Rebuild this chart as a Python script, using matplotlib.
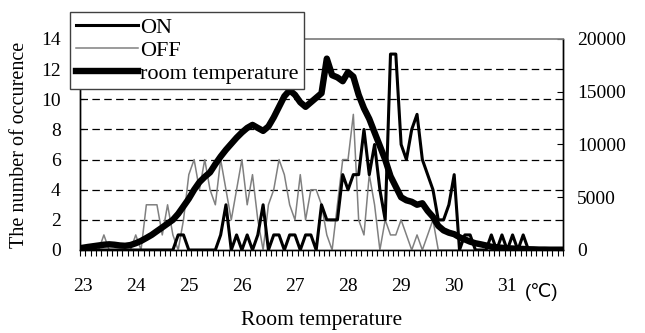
import numpy as np
import matplotlib.pyplot as plt

# ---------------------------------------------------------
# data, 23.0 .. 32.0 degC in 0.1 steps
# ---------------------------------------------------------
temps = [round(23.0 + 0.1 * k, 1) for k in range(91)]

on_count = [0, 0, 0, 0, 0, 0, 0, 0, 0, 0,
            0, 0, 0, 0, 0, 0, 0, 0, 1, 1,
            0, 0, 0, 0, 0, 0, 1, 3, 0, 1,
            0, 1, 0, 1, 3, 0, 1, 1, 0, 1,
            1, 0, 1, 1, 0, 3, 2, 2, 2, 5,
            4, 5, 5, 8, 5, 7, 4, 2, 13, 13,
            7, 6, 8, 9, 6, 5, 4, 2, 2, 3,
            5, 0, 1, 1, 0, 0, 0, 1, 0, 1,
            0, 1, 0, 1, 0, 0, 0, 0, 0, 0,
            0]

off_count = [0, 0, 0, 0, 1, 0, 0, 0, 0, 0,
             1, 0, 3, 3, 3, 1, 3, 1, 0, 2,
             5, 6, 4, 6, 4, 3, 6, 4, 2, 4,
             6, 3, 5, 2, 0, 3, 4, 6, 5, 3,
             2, 5, 2, 4, 4, 3, 1, 0, 3, 6,
             6, 9, 2, 1, 5, 3, 0, 2, 1, 1,
             2, 1, 0, 1, 0, 1, 2, 0, 0, 0,
             0, 0, 0, 0, 0, 0, 0, 0, 0, 0,
             0, 0, 0, 0, 0, 0, 0, 0, 0, 0,
             0]

room_temp = [210, 290, 360, 430, 500, 540, 500, 430, 400, 470,
             640, 860, 1140, 1430, 1790, 2140, 2500, 2860, 3430, 4140,
             4860, 5710, 6430, 6930, 7360, 8140, 8860, 9500, 10070, 10640,
             11140, 11570, 11860, 11570, 11290, 11710, 12570, 13570, 14570, 15140,
             14710, 14000, 13570, 14000, 14430, 14860, 18140, 16570, 16360, 16000,
             16860, 16430, 14710, 13430, 12430, 11140, 9860, 8570, 7000, 6000,
             5000, 4710, 4570, 4290, 4430, 3710, 3140, 2290, 1860, 1640,
             1500, 1210, 1000, 790, 640, 540, 430, 310, 260, 210,
             170, 140, 110, 100, 70, 60, 40, 40, 30, 30,
             30]

tick_labels = ['23', '24', '25', '26', '27', '28', '29', '30', '31']

plt.rcParams['font.family'] = ['Liberation Serif', 'DejaVu Serif']

fig = plt.figure(figsize=(6.45, 3.33), dpi=100)
ax = fig.add_axes([80 / 645, 1 - 250 / 333, 483 / 645, 211 / 333])
ax2 = ax.twinx()

x = np.arange(len(temps))

l_on, = ax.plot(x, on_count, color='black', lw=2.2, zorder=4)
l_off, = ax.plot(x, off_count, color='#808080', lw=1.1, zorder=3)
l_room, = ax2.plot(x, room_temp, color='black', lw=4.6, solid_joinstyle='round')

ax.set_xlim(-0.5, len(temps) - 0.5)
ax.set_ylim(0, 14)
ax2.set_ylim(0, 20000)

# dashed grid lines between bottom and top
ax.set_yticks(np.arange(0, 15, 2))
for yv in ax.get_yticks()[1:-1]:
    ax.axhline(yv, color='black', lw=0.9, ls=(0, (6, 3.5)), zorder=1)
ax2.set_yticks(np.arange(0, 20001, 5000))

# category ticks
major_pos = [temps.index(float(t)) for t in tick_labels]
ax.set_xticks(major_pos)
ax.set_xticklabels(tick_labels)
ax.set_xticks(np.arange(-0.5, len(temps), 1), minor=True)
ax.tick_params(axis='x', which='major', length=0, pad=20, labelsize=14)
ax.tick_params(axis='x', which='minor', length=4, width=0.8, direction='out')
ax.tick_params(axis='y', length=3, direction='in', pad=14, labelsize=14)
ax2.tick_params(axis='y', length=4, direction='in', pad=10, labelsize=14)

for a in (ax, ax2):
    for s in ('left', 'bottom', 'right'):
        a.spines[s].set_color('black')
        a.spines[s].set_linewidth(1.0)
    a.spines['top'].set_color('#8c8c8c')
    a.spines['top'].set_linewidth(1.2)

ax.set_ylabel('The number of occurence', fontsize=14.5)
ax.yaxis.set_label_coords(-0.105, 0.5)
ax.set_xlabel('Room temperature', fontsize=15.5)
ax.xaxis.set_label_coords(0.5, -0.29)

fig.text(542 / 645, 1 - 292 / 333, '(\u2103)', fontsize=13.5, ha='center', va='center',
         family=['Liberation Sans', 'DejaVu Sans'])

leg = ax2.legend([l_on, l_off, l_room], ['ON', 'OFF', 'room temperature'],
                 loc='upper left', bbox_to_anchor=(70 / 645, 1 - 12 / 333),
                 bbox_transform=fig.transFigure, fontsize=16, frameon=True,
                 fancybox=False, framealpha=1, edgecolor='#404040',
                 handlelength=2.8, handletextpad=0.1, labelspacing=0.1,
                 borderpad=0.25, borderaxespad=0)
leg.get_frame().set_linewidth(1.0)

fig.savefig('out.png', dpi=100)
